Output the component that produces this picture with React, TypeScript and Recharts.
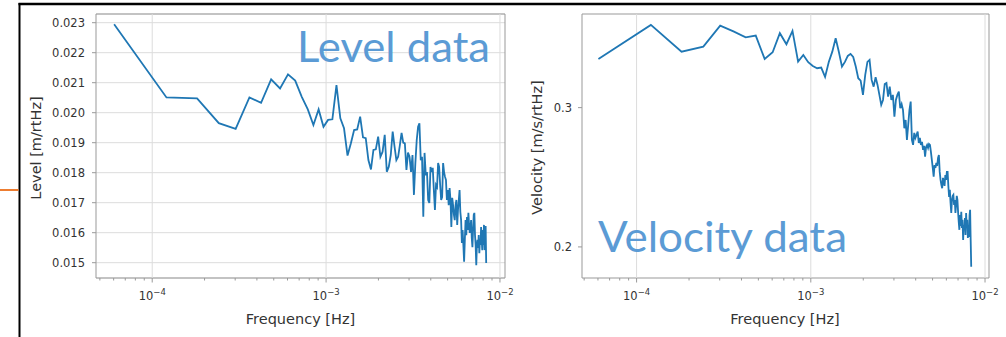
import {
  CartesianGrid,
  Line,
  LineChart,
  ReferenceArea,
  ReferenceLine,
  XAxis,
  YAxis,
} from "recharts";

// spacing of the PSD frequency bins (Hz), bin n sits at n * BIN_WIDTH_HZ
const BIN_WIDTH_HZ = 6.0386e-5;

const levelValues = [
  0.02295, 0.02051, 0.02048, 0.01965, 0.01946, 0.02051, 0.02033, 0.02111, 0.02081, 0.02128,
  0.02107, 0.02053, 0.02011, 0.01959, 0.02011, 0.01953, 0.01976, 0.01978, 0.02092, 0.01981,
  0.01948, 0.01857, 0.01898, 0.01942, 0.01944, 0.01987, 0.01918, 0.01915, 0.01842, 0.01811,
  0.01876, 0.01878, 0.0192, 0.01853, 0.0187, 0.01926, 0.01803, 0.0182, 0.01859, 0.01937,
  0.01887, 0.01842, 0.01853, 0.01892, 0.01933, 0.019, 0.01898, 0.01809, 0.01867, 0.01853,
  0.01803, 0.01859, 0.01726, 0.01831, 0.01909, 0.01953, 0.01965, 0.01842, 0.01853, 0.01653,
  0.01866, 0.01792, 0.01802, 0.01709, 0.01699, 0.01819, 0.01802, 0.01816, 0.01742, 0.01676,
  0.01759, 0.01752, 0.01832, 0.01819, 0.01759, 0.01709, 0.01719, 0.01832, 0.01802, 0.01786,
  0.01776, 0.01709, 0.01742, 0.01692, 0.01749, 0.01709, 0.01619, 0.01716, 0.01692, 0.01659,
  0.01642, 0.01692, 0.01709, 0.01626, 0.01676, 0.01709, 0.01742, 0.01669, 0.01642, 0.01566,
  0.01609, 0.01559, 0.01503, 0.01576, 0.01642, 0.01592, 0.01652, 0.01609, 0.01666, 0.01626,
  0.01599, 0.01616, 0.01642, 0.01582, 0.01552, 0.01609, 0.01659, 0.01666, 0.01592, 0.01559,
  0.01492, 0.01559, 0.01576, 0.01549, 0.01592, 0.01532, 0.01576, 0.01559, 0.01619, 0.01576,
  0.01542, 0.01609, 0.01559, 0.01626, 0.01542, 0.01576, 0.01622, 0.01499,
];

const velocityValues = [
  0.3457, 0.3817, 0.3531, 0.3583, 0.3809, 0.3743, 0.3682, 0.37, 0.3457, 0.3525,
  0.3726, 0.3608, 0.3751, 0.343, 0.3497, 0.3424, 0.3387, 0.3365, 0.3371, 0.3281,
  0.3427, 0.3531, 0.3672, 0.3528, 0.3381, 0.3427, 0.3487, 0.3508, 0.3477, 0.3381,
  0.3268, 0.3245, 0.3113, 0.33, 0.3427, 0.3447, 0.3252, 0.3189, 0.3278, 0.3205,
  0.3113, 0.3024, 0.3068, 0.3214, 0.3224, 0.3098, 0.3189, 0.3068, 0.3113, 0.2922,
  0.3068, 0.3113, 0.3143, 0.2995, 0.3032, 0.298, 0.2825, 0.2894, 0.2731, 0.2853,
  0.298, 0.3053, 0.2731, 0.2692, 0.2787, 0.2747, 0.2771, 0.2798, 0.2707, 0.2747,
  0.2692, 0.2715, 0.2653, 0.2684, 0.2601, 0.2676, 0.2692, 0.2668, 0.2699, 0.2692,
  0.2637, 0.2577, 0.2517, 0.2454, 0.2539, 0.2517, 0.2554, 0.2532, 0.2592, 0.2614,
  0.2488, 0.2431, 0.2396, 0.2373, 0.2445, 0.2417, 0.2389, 0.2466, 0.2431, 0.2488,
  0.2488, 0.2389, 0.2313, 0.2361, 0.2273, 0.2208, 0.2293, 0.232, 0.2327, 0.226,
  0.2293, 0.2208, 0.226, 0.232, 0.2293, 0.2215, 0.2151, 0.2102, 0.2195, 0.2126,
  0.2215, 0.2114, 0.2164, 0.2041, 0.2132, 0.2102, 0.2176, 0.2071, 0.2208, 0.2114,
  0.2164, 0.2053, 0.2132, 0.2059, 0.2195, 0.2228, 0.2041, 0.1888,
];

const freqTicks = [
  5e-5, 6e-5, 7e-5, 8e-5, 9e-5,
  1e-4, 2e-4, 3e-4, 4e-4, 5e-4, 6e-4, 7e-4, 8e-4, 9e-4,
  1e-3, 2e-3, 3e-3, 4e-3, 5e-3, 6e-3, 7e-3, 8e-3, 9e-3,
  1e-2,
];
const majorFreqs = [1e-4, 1e-3, 1e-2];
const levelTicks = [0.015, 0.016, 0.017, 0.018, 0.019, 0.02, 0.021, 0.022, 0.023];
const velocityTicks = [0.2, 0.3];

const levelData = levelValues.map((v, i) => ({ freq: (i + 1) * BIN_WIDTH_HZ, value: v }));
const velocityData = velocityValues.map((v, i) => ({ freq: (i + 1) * BIN_WIDTH_HZ, value: v }));

const FONT = "DejaVu Sans";
const TEXT = "#333";
const SPINE = "#999";
const GRID = "#dcdcdc";
const BLUE = "#1f77b4";

function FreqTick({ x, y, payload }: any) {
  const v = payload.value;
  const major = majorFreqs.includes(v);
  const exp = Math.round(Math.log10(v));
  return (
    <g>
      <line x1={x} x2={x} y1={y} y2={y + (major ? 4.5 : 2.5)} stroke={SPINE} />
      {major && (
        <text x={x} y={y + 22} textAnchor="middle" fontSize={11.5} fill={TEXT} fontFamily={FONT}>
          <tspan>10</tspan>
          <tspan dy={-5} fontSize={8.5}>{`\u2212${-exp}`}</tspan>
        </text>
      )}
    </g>
  );
}

function LevelChart() {
  const xDomain = [4.75e-5, 1.069e-2];
  const yDomain = [0.01449, 0.02329];
  return (
    <LineChart
      width={510}
      height={337}
      data={levelData}
      margin={{ top: 14, right: 25, bottom: 0, left: 0 }}
      style={{ position: "absolute", left: 20, top: 0 }}
    >
      <CartesianGrid vertical={false} stroke={GRID} />
      {majorFreqs.map((f) => (
        <ReferenceLine key={f} x={f} stroke={GRID} />
      ))}
      <XAxis
        dataKey="freq"
        type="number"
        scale="log"
        domain={xDomain}
        allowDataOverflow
        ticks={freqTicks}
        interval={0}
        height={59}
        tickSize={0}
        tickMargin={0}
        axisLine={false}
        tick={<FreqTick />}
      />
      <YAxis
        type="number"
        domain={yDomain}
        allowDataOverflow
        ticks={levelTicks}
        interval={0}
        width={76}
        tickSize={4}
        tickMargin={7}
        axisLine={false}
        tickLine={{ stroke: SPINE }}
        tickFormatter={(v: number) => v.toFixed(3)}
        tick={{ fontSize: 11.5, fill: TEXT, fontFamily: FONT }}
      />
      <ReferenceArea
        x1={xDomain[0]}
        x2={xDomain[1]}
        y1={yDomain[0]}
        y2={yDomain[1]}
        fill="none"
        stroke={SPINE}
      />
      <Line
        dataKey="value"
        stroke={BLUE}
        strokeWidth={1.8}
        dot={false}
        isAnimationActive={false}
      />
    </LineChart>
  );
}

function VelocityChart() {
  const xDomain = [4.86e-5, 1.054e-2];
  const yDomain = [0.1827, 0.394];
  return (
    <LineChart
      width={480}
      height={337}
      data={velocityData}
      margin={{ top: 14, right: 11, bottom: 0, left: 0 }}
      style={{ position: "absolute", left: 520, top: 0 }}
    >
      {majorFreqs.map((f) => (
        <ReferenceLine key={f} x={f} stroke={GRID} />
      ))}
      <XAxis
        dataKey="freq"
        type="number"
        scale="log"
        domain={xDomain}
        allowDataOverflow
        ticks={freqTicks}
        interval={0}
        height={59}
        tickSize={0}
        tickMargin={0}
        axisLine={false}
        tick={<FreqTick />}
      />
      <YAxis
        type="number"
        scale="log"
        domain={yDomain}
        allowDataOverflow
        ticks={velocityTicks}
        interval={0}
        width={62}
        tickSize={4}
        tickMargin={6}
        axisLine={false}
        tickLine={{ stroke: SPINE }}
        tickFormatter={(v: number) => String(v)}
        tick={{ fontSize: 11.5, fill: TEXT, fontFamily: FONT }}
      />
      <ReferenceArea
        x1={xDomain[0]}
        x2={xDomain[1]}
        y1={yDomain[0]}
        y2={yDomain[1]}
        fill="none"
        stroke={SPINE}
      />
      <Line
        dataKey="value"
        stroke={BLUE}
        strokeWidth={1.8}
        dot={false}
        isAnimationActive={false}
      />
    </LineChart>
  );
}

export default function App() {
  return (
    <div
      style={{
        position: "absolute",
        left: 0,
        top: 0,
        width: 1006,
        height: 337,
        background: "#fff",
        overflow: "hidden",
      }}
    >
      <LevelChart />
      <VelocityChart />
      <svg
        width={1006}
        height={337}
        style={{ position: "absolute", left: 0, top: 0, pointerEvents: "none" }}
      >
        {/* slide frame and connector */}
        <line x1={18.5} x2={1006} y1={4} y2={4} stroke="#000" strokeWidth={2.5} />
        <line x1={19.5} x2={19.5} y1={3} y2={337} stroke="#000" strokeWidth={2} />
        <line x1={0} x2={18.5} y1={190} y2={190} stroke="#ED7D31" strokeWidth={2} />

        {/* axis titles */}
        <text x={300.5} y={324} textAnchor="middle" fontSize={14.5} fill={TEXT} fontFamily={FONT}>
          Frequency [Hz]
        </text>
        <text x={785} y={324} textAnchor="middle" fontSize={14.5} fill={TEXT} fontFamily={FONT}>
          Frequency [Hz]
        </text>
        <text
          transform="translate(40.5,148) rotate(-90)"
          textAnchor="middle"
          fontSize={14.5}
          fill={TEXT}
          fontFamily={FONT}
        >
          Level [m/rtHz]
        </text>
        <text
          transform="translate(541.5,147.5) rotate(-90)"
          textAnchor="middle"
          fontSize={14.5}
          fill={TEXT}
          fontFamily={FONT}
        >
          Velocity [m/s/rtHz]
        </text>

        {/* slide annotations */}
        <text
          x={297}
          y={62}
          fontSize={43}
          fill="#5B9BD5"
          fontFamily="Lato"
          textLength={193}
          lengthAdjust="spacingAndGlyphs"
        >
          Level data
        </text>
        <text
          x={598}
          y={252}
          fontSize={42}
          fill="#5B9BD5"
          fontFamily="Lato"
          textLength={249}
          lengthAdjust="spacingAndGlyphs"
        >
          Velocity data
        </text>
      </svg>
    </div>
  );
}
